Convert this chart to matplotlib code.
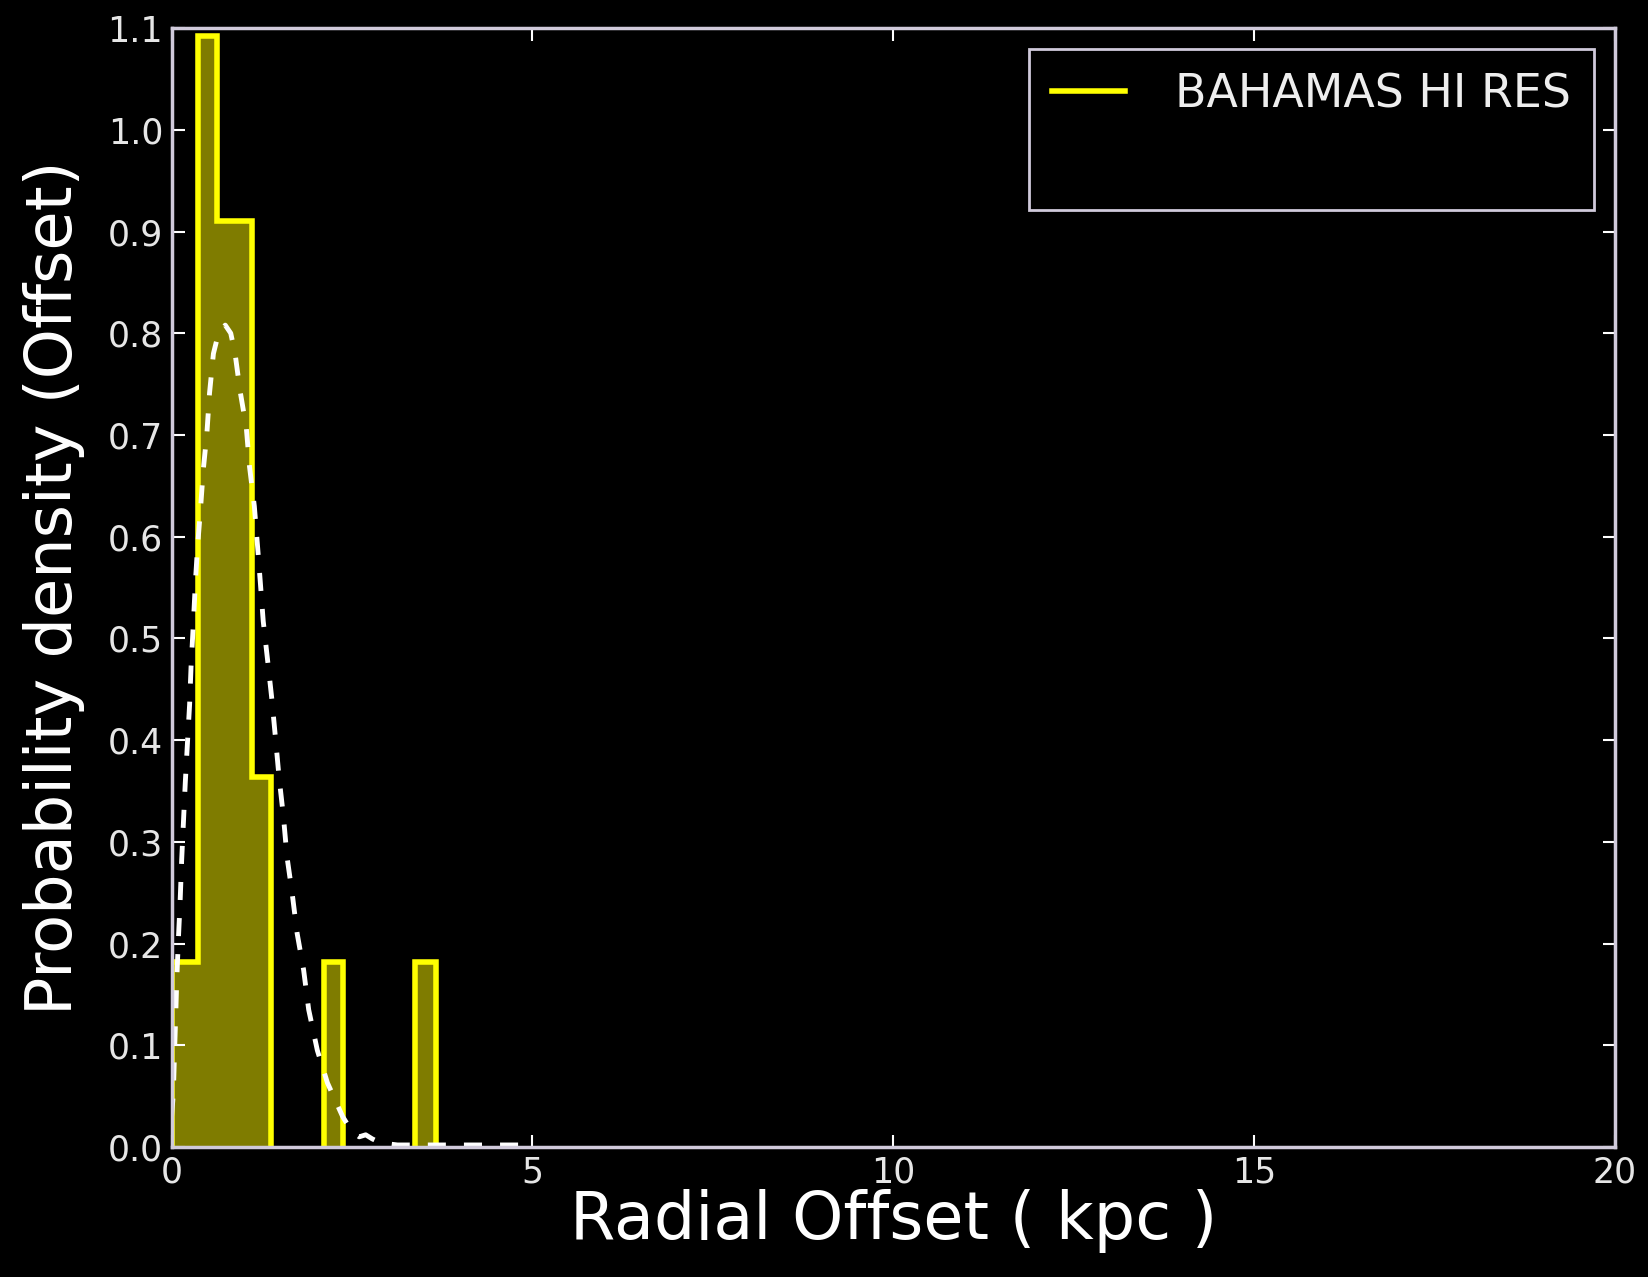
import numpy as np
import matplotlib
matplotlib.use("Agg")
import matplotlib.pyplot as plt
from matplotlib.lines import Line2D

# Histogram of radial offsets (density), bin edges in kpc
bin_edges = [0.0, 0.36, 0.63, 1.12, 1.38, 2.11, 2.38, 3.37, 3.67]
bin_density = [0.182, 1.092, 0.91, 0.364, 0.0, 0.182, 0.0, 0.182]

# Smoothed density estimate (dashed curve)
kde_x = [0.0, 0.025, 0.04, 0.058, 0.072, 0.095, 0.118, 0.14, 0.165, 0.19,
         0.22, 0.25, 0.27, 0.30, 0.33, 0.36, 0.40, 0.44, 0.49, 0.526,
         0.58, 0.65, 0.744, 0.82, 0.88, 0.95, 1.036, 1.08, 1.147, 1.19,
         1.23, 1.27, 1.33, 1.39, 1.44, 1.49, 1.55, 1.60, 1.67, 1.74,
         1.83, 1.90, 2.02, 2.16, 2.37, 2.50, 2.60, 2.69, 2.78, 2.90,
         3.13, 3.50, 4.00, 4.50, 5.00]
kde_y = [0.03, 0.053, 0.09, 0.13, 0.164, 0.205, 0.24, 0.282, 0.32, 0.358,
         0.397, 0.435, 0.472, 0.512, 0.555, 0.59, 0.626, 0.666, 0.702, 0.741,
         0.78, 0.80, 0.808, 0.80, 0.78, 0.743, 0.707, 0.669, 0.63, 0.592,
         0.555, 0.517, 0.479, 0.44, 0.402, 0.363, 0.325, 0.285, 0.25, 0.21,
         0.174, 0.135, 0.095, 0.063, 0.03, 0.015, 0.010, 0.012, 0.008, 0.004,
         0.002, 0.002, 0.002, 0.002, 0.002]

x_ticks = [0, 5, 10, 15, 20]
y_ticks = [0.0, 0.1, 0.2, 0.3, 0.4, 0.5, 0.6, 0.7, 0.8, 0.9, 1.0, 1.1]

series_label = "BAHAMAS HI RES"

plt.rcParams["font.family"] = ["DejaVu Sans"]
plt.rcParams["lines.scale_dashes"] = False

spine_col = "#d0cadb"
fig = plt.figure(figsize=(16.48, 12.77), dpi=100, facecolor="black")
ax = fig.add_axes([0.1041, 0.1018, 0.8759, 0.8762], facecolor="black")

# Draw each contiguous run of non-empty bins as one step outline
edges = np.asarray(bin_edges)
dens = np.asarray(bin_density)
i = 0
n = len(dens)
while i < n:
    if dens[i] > 0:
        j = i
        while j + 1 < n and dens[j + 1] > 0:
            j += 1
        ax.stairs(dens[i:j + 1], edges[i:j + 2], fill=True,
                  facecolor="#7f7c00", edgecolor="none", zorder=1)
        ax.stairs(dens[i:j + 1], edges[i:j + 2], fill=False,
                  color="#ffff00", linewidth=4.0, baseline=0, zorder=1.5)
        i = j + 1
    else:
        i += 1

ax.plot(kde_x, kde_y, color="white", linewidth=3.5, linestyle="--",
        dashes=(13, 13), zorder=2)

ax.set_xlim(0, 20)
ax.set_ylim(0, 1.1)
ax.set_xticks(x_ticks)
ax.set_yticks(y_ticks)
ax.set_xticklabels([str(t) for t in x_ticks])
ax.set_yticklabels([f"{t:.1f}" for t in y_ticks])

ax.tick_params(which="major", direction="in", length=9, width=1.5,
               colors="white", labelcolor="#e6e6e6", labelsize=25, pad=6,
               top=True, right=True)
for s in ax.spines.values():
    s.set_color(spine_col)
    s.set_linewidth(2.5)

ax.set_xlabel("Radial Offset ( kpc )", fontsize=47, color="white", labelpad=0)
ax.set_ylabel("Probability density (Offset)", fontsize=46, color="white",
              labelpad=16)

handles = [Line2D([], [], color="#ffff00", linewidth=4.0),
           Line2D([], [], color="none")]
leg = ax.legend(handles, [series_label, " "], loc="upper right",
                bbox_to_anchor=(0.9855, 0.9812), borderaxespad=0,
                fontsize=33, frameon=True, fancybox=False,
                handlelength=1.6, handletextpad=1.1, borderpad=0.5,
                labelspacing=0.55)
frame = leg.get_frame()
frame.set_facecolor("black")
frame.set_edgecolor(spine_col)
frame.set_linewidth(2.0)
frame.set_alpha(1.0)
for t in leg.get_texts():
    t.set_color("#eeeeee")

fig.savefig("out.png", dpi=100, facecolor="black")
